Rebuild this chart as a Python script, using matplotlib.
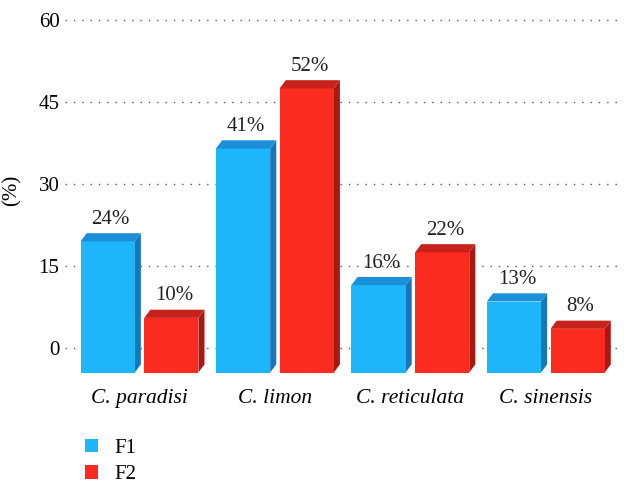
import matplotlib
matplotlib.use("Agg")
import matplotlib.pyplot as plt
from matplotlib.patches import Polygon, Patch
import numpy as np

categories = ["C. paradisi", "C. limon", "C. reticulata", "C. sinensis"]
f1_values = [24, 41, 16, 13]
f2_values = [10, 52, 22, 8]
series_names = ["F1", "F2"]
yticks = [0, 15, 30, 45, 60]

plt.rcParams['font.family'] = ['Liberation Serif', 'DejaVu Serif']

fig = plt.figure(figsize=(6.31, 5.03), dpi=100)
ax = fig.add_axes([0.103, 0.243, 0.88, 0.728])

base = -4.5
width = 0.40
offs = [-0.235, 0.235]
dx, dy = 0.045, 1.5
colors = [
    dict(front="#1DB6FA", top="#1B8FD8", side="#1577BA"),
    dict(front="#FB2B1F", top="#C8221C", side="#A81914"),
]

for gi, y in enumerate(yticks):
    ax.axhline(y, color="#555555", linestyle=(0, (1, 5)), linewidth=1.0, zorder=0)

x = np.arange(len(categories))
for si, vals in enumerate([f1_values, f2_values]):
    c = colors[si]
    ax.bar(x + offs[si], [v for v in vals], bottom=base, width=width,
           color=c["front"], zorder=3, label=series_names[si])
    for xi, v in zip(x + offs[si], vals):
        l, r, t = xi - width / 2, xi + width / 2, base + v
        top = Polygon([(l, t), (r, t), (r + dx, t + dy), (l + dx, t + dy)],
                      closed=True, facecolor=c["top"], edgecolor="none", zorder=4)
        side = Polygon([(r, base), (r + dx, base + dy), (r + dx, t + dy), (r, t)],
                       closed=True, facecolor=c["side"], edgecolor="none", zorder=2)
        ax.add_patch(top)
        ax.add_patch(side)
        ax.text(xi + dx / 2, t + dy + 0.8, f"{v}%", ha="center", va="bottom",
                fontsize=15, color="#222222", zorder=5)

ax.set_xlim(-0.55, 3.55)
ax.set_ylim(-6, 61)
ax.set_yticks(yticks)
ax.set_yticklabels([str(v) for v in yticks], fontsize=15)
ax.set_xticks(x)
ax.set_xticklabels(categories, fontsize=15.5, style="italic")
ax.tick_params(axis="both", length=0, pad=6)
ax.tick_params(axis="y", pad=4)
for s in ax.spines.values():
    s.set_visible(False)
ax.set_ylabel("(%)", fontsize=15)
ax.yaxis.set_label_coords(-0.078, 0.52)

handles = [Patch(facecolor=colors[0]["front"]), Patch(facecolor=colors[1]["front"])]
fig.legend(handles, series_names, loc="lower left", bbox_to_anchor=(0.105, 0.0),
           frameon=False, fontsize=15, handlelength=0.6, handleheight=0.6,
           handletextpad=0.8, labelspacing=0.35)

fig.savefig("out.png", dpi=100)
